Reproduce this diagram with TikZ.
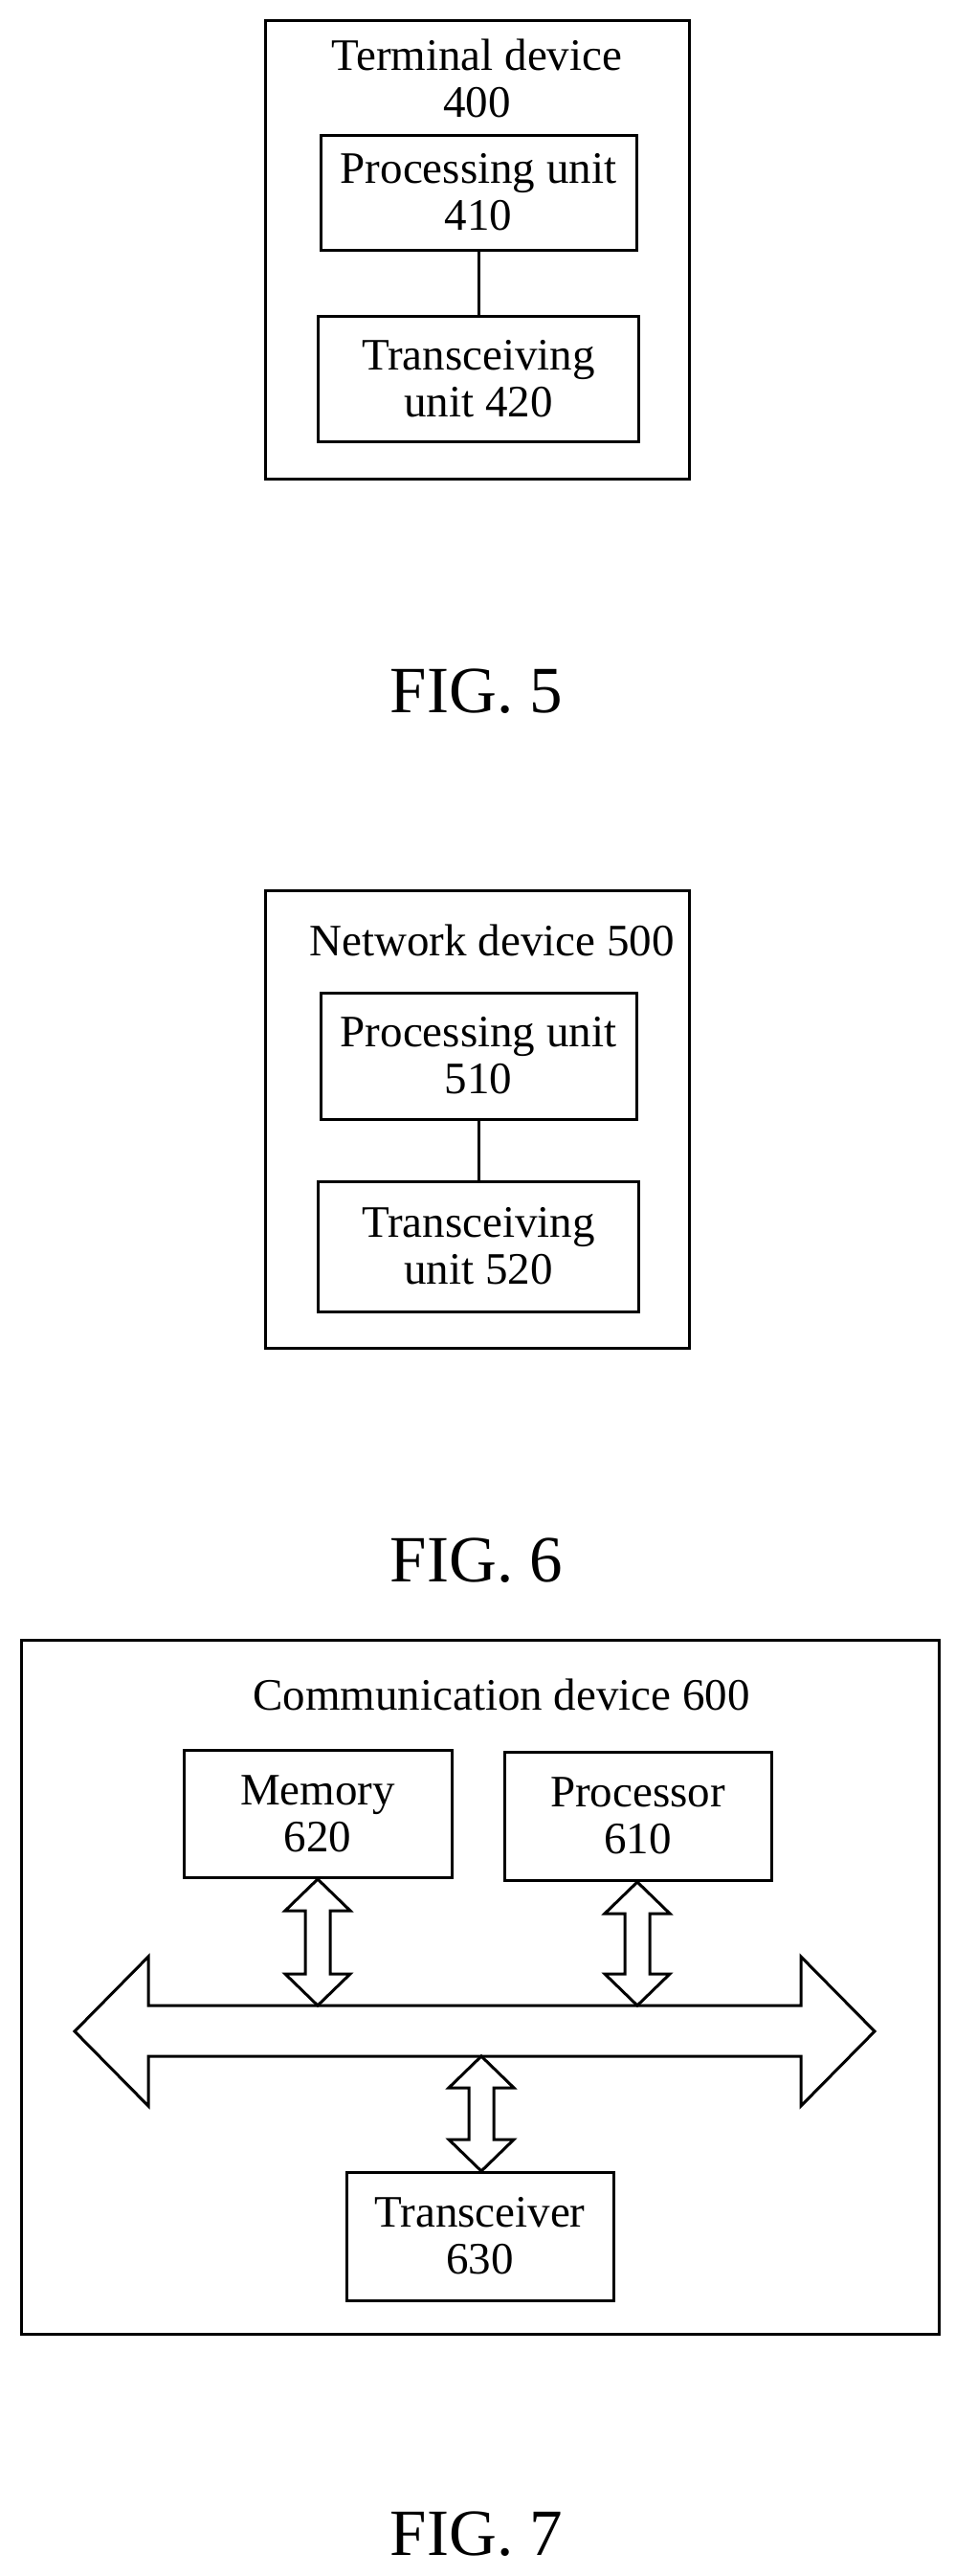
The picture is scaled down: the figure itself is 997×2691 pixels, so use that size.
\documentclass[tikz,border=0pt]{standalone}
\usepackage{fontspec}
\setmainfont{Liberation Serif}
\newcommand\vdarr[3]{\draw[shp] (#1,#2) -- (#1+34,#2+33) -- (#1+13,#2+33) -- (#1+13,#3-33) -- (#1+34,#3-33) -- (#1,#3) -- (#1-34,#3-33) -- (#1-13,#3-33) -- (#1-13,#2+33) -- (#1-34,#2+33) -- cycle;}
\begin{document}
\begin{tikzpicture}[x=1pt,y=-1pt,
  box/.style={draw,line width=3pt,inner sep=0pt,align=center,font=\fontsize{47}{49}\selectfont},
  lbl/.style={inner sep=0pt,align=center,font=\fontsize{47}{49}\selectfont},
  fig/.style={inner sep=0pt,font=\fontsize{69}{70}\selectfont},
  shp/.style={draw,line width=3pt,fill=white,line join=miter},
  con/.style={line width=3pt}]
\useasboundingbox (0,0) rectangle (997,2691);
% FIG 5
\node[box,minimum width=443pt,minimum height=479pt] (o5) at (498.5,260.5) {};
\node[lbl] (t5) at (498.5,82) {Terminal device\\400};
\node[box,minimum width=330pt,minimum height=120pt] (p5) at (500,201) {Processing unit\\410};
\node[box,minimum width=335pt,minimum height=131pt] (r5) at (500,395.5) {Transceiving\\unit 420};
\draw[con] (p5) -- (r5);
\node[fig] (f5) at (498,722) {FIG. 5};
% FIG 6
\node[box,minimum width=443pt,minimum height=478pt] (o6) at (498.5,1169) {};
\node[lbl] (t6) at (514,982) {Network device 500};
\node[box,minimum width=330pt,minimum height=132pt] (p6) at (500,1103) {Processing unit\\510};
\node[box,minimum width=335pt,minimum height=136pt] (r6) at (500,1302) {Transceiving\\unit 520};
\draw[con] (p6) -- (r6);
\node[fig] (f6) at (498,1630) {FIG. 6};
% FIG 7
\node[box,minimum width=959pt,minimum height=725pt] (o7) at (501.5,2075.5) {};
\node[lbl] (t7) at (524,1770) {Communication device 600};
\node[box,minimum width=280pt,minimum height=133pt] (m7) at (332,1894.5) {Memory\\620};
\node[box,minimum width=279pt,minimum height=134pt] (c7) at (666.5,1897) {Processor\\610};
\node[box,minimum width=279pt,minimum height=134pt] (x7) at (501.5,2336) {Transceiver\\630};
\draw[shp] (78,2122) -- (155,2044) -- (155,2095) -- (837,2095) -- (837,2044) -- (914,2122) -- (837,2200) -- (837,2148) -- (155,2148) -- (155,2200) -- cycle;
\vdarr{332}{1963}{2095}
\vdarr{666}{1966}{2095}
\vdarr{503}{2148}{2268}
\node[fig] (f7) at (498,2647) {FIG. 7};
\end{tikzpicture}
\end{document}
